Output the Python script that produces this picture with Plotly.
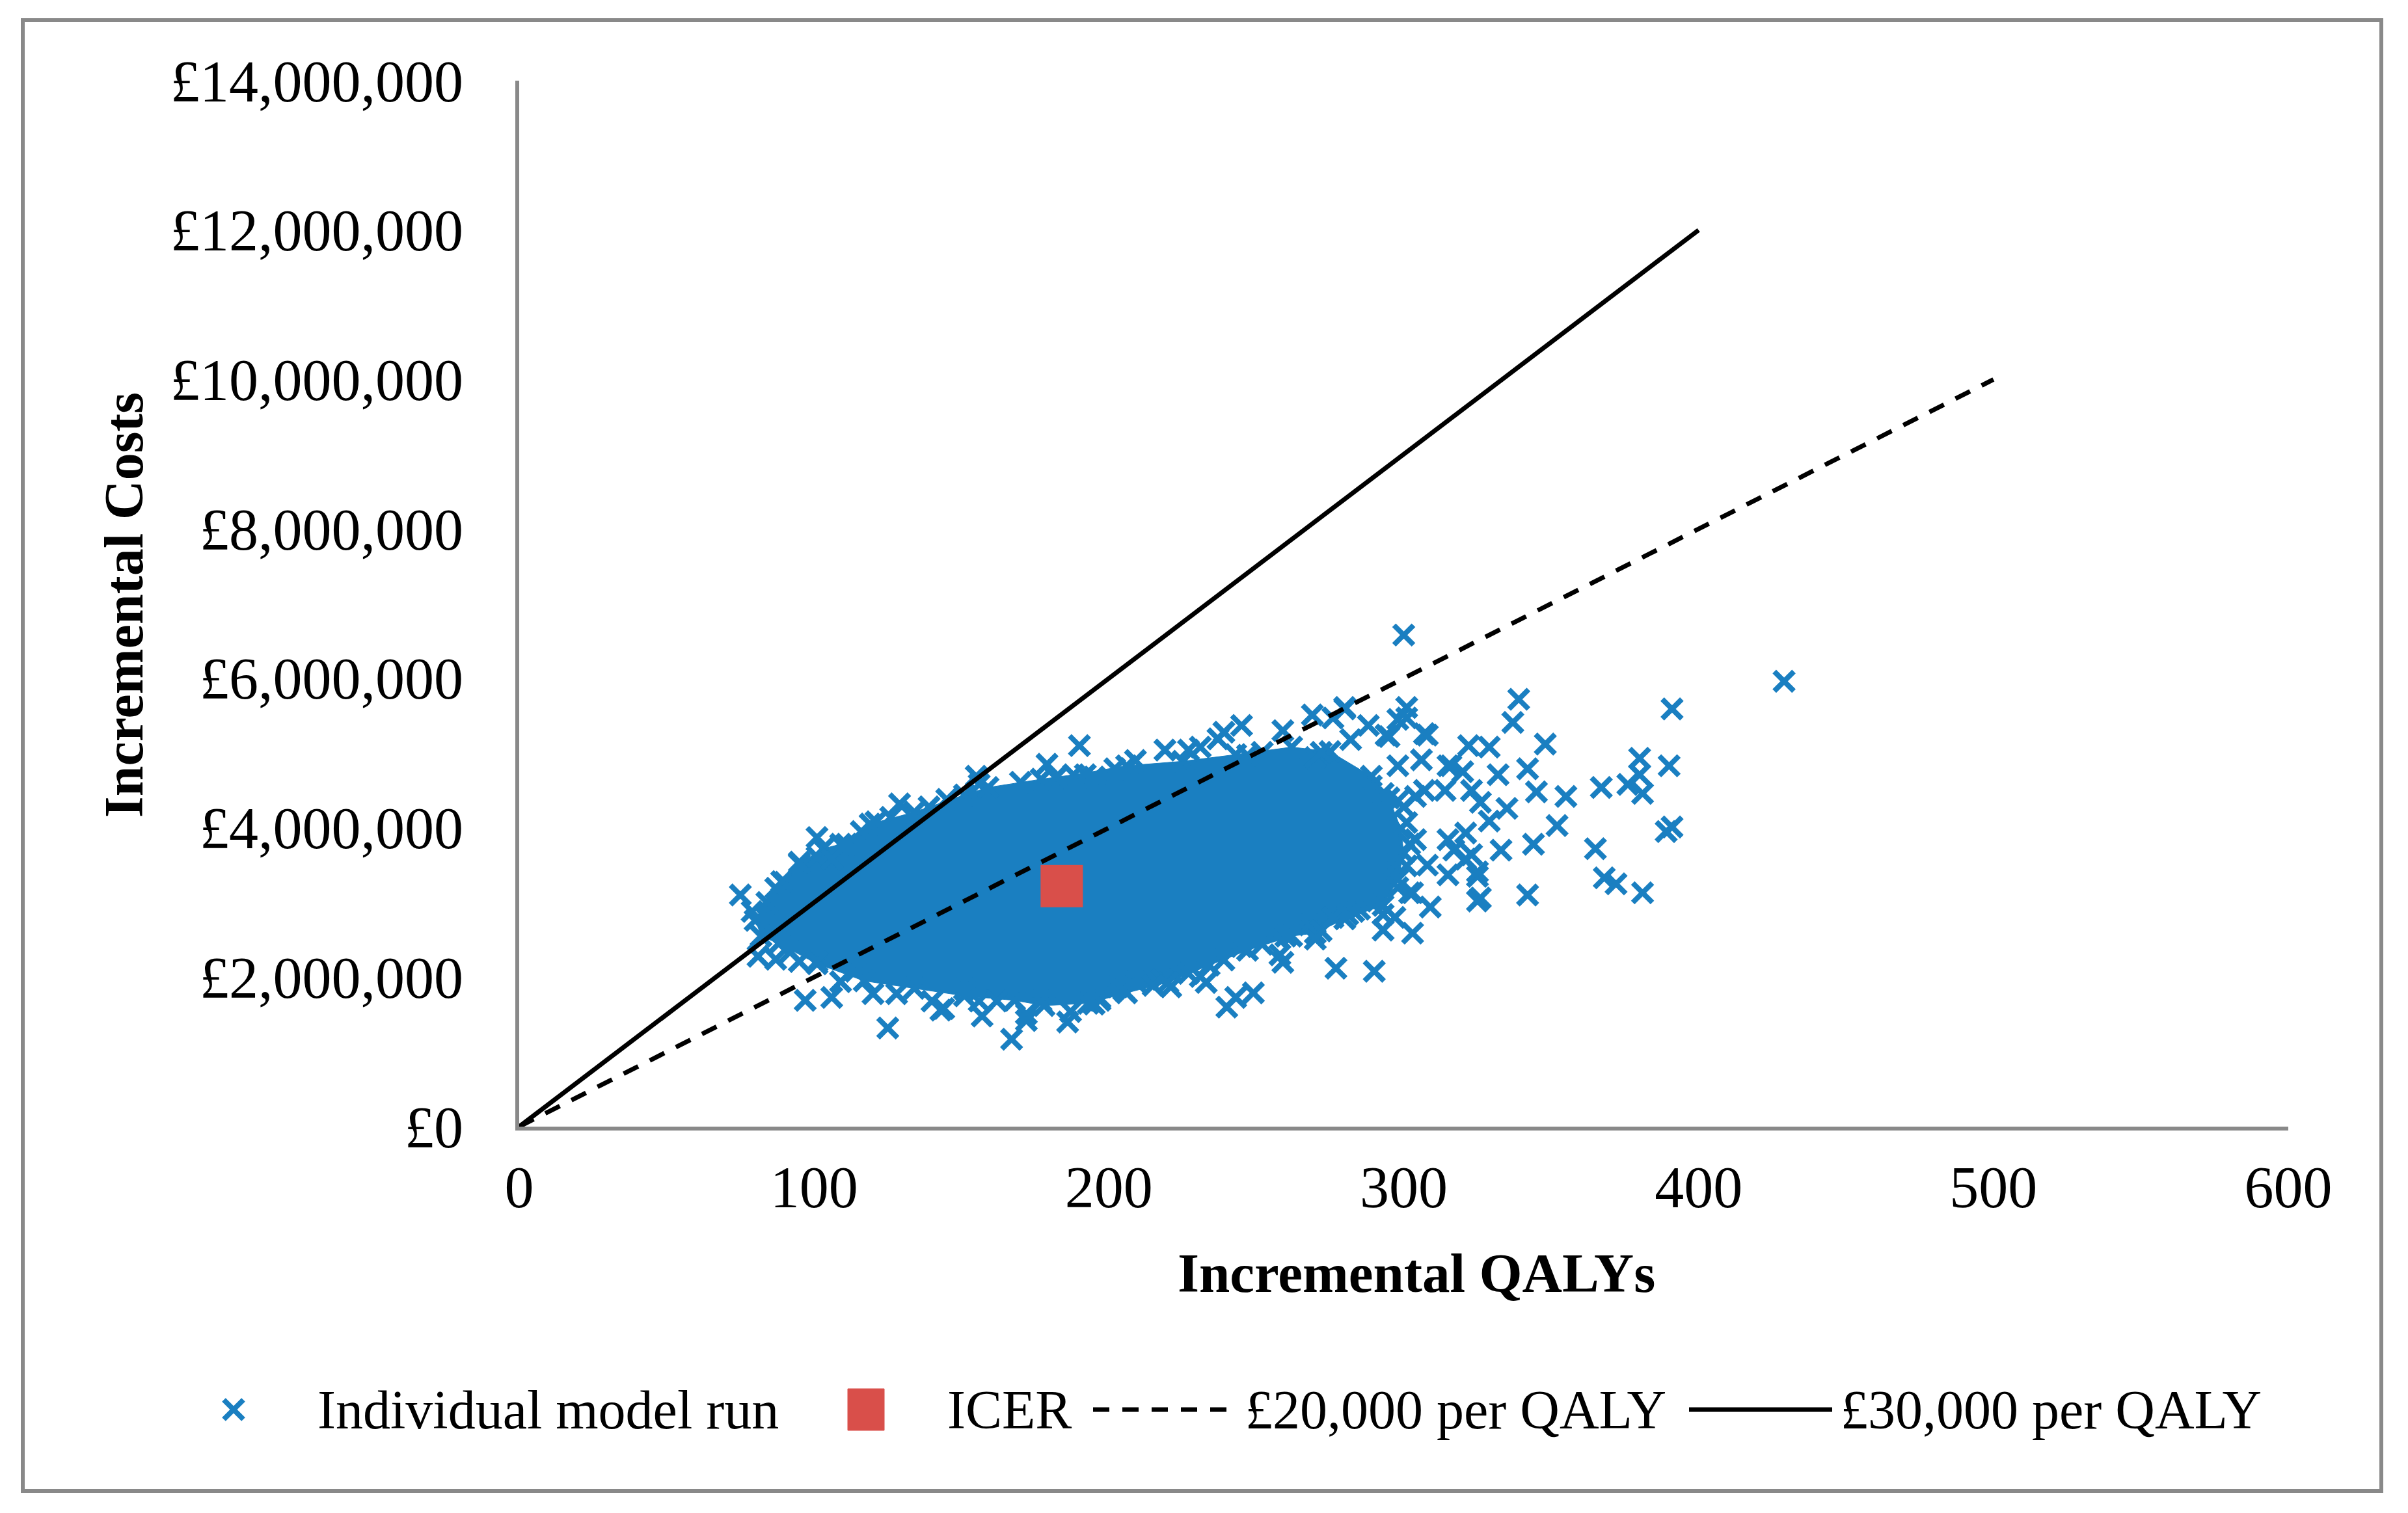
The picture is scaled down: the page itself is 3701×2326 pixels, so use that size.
import plotly.graph_objects as go

# reference canvas; the page body adds an 8px margin round the figure
W, H = 3701, 2326
PAD = 8
FW, FH = W - 2 * PAD, H - 2 * PAD

# ---- data ----
# outline of the solid blue cloud of model runs (QALYs, £ millions)
cloud_q = [80, 84, 90, 95, 103, 109, 119, 134, 151, 159, 177, 188, 206, 225, 243, 262, 275,
           289, 295, 299, 300, 298, 293, 280, 270, 262, 247, 234, 220, 206, 193, 178, 168,
           151, 134, 117, 101, 88, 82]
cloud_cost_m = [2.76, 3.00, 3.27, 3.52, 3.72, 3.78, 4.05, 4.21, 4.44, 4.54, 4.65, 4.71, 4.83,
                4.89, 4.98, 5.08, 5.02, 4.69, 4.40, 3.99, 3.66, 3.31, 2.96, 2.78, 2.59, 2.55,
                2.36, 2.16, 1.93, 1.79, 1.65, 1.62, 1.69, 1.75, 1.85, 1.95, 2.18, 2.45, 2.55]

# runs sitting on the ragged edge of the cloud
edge_q = [89, 95, 101, 106, 111, 116, 121, 126, 139, 145, 156, 170, 182, 192,
          195, 202, 209, 219, 227, 231, 237, 247, 252, 270, 272,
          92, 95, 101, 109, 114, 120, 128, 140, 144, 151, 156, 162, 172, 177, 187, 195,
          197, 203, 209, 218, 227, 231, 239, 245, 252, 258, 260, 268, 272, 276, 285, 291,
          298, 301, 302, 301, 298]
edge_cost_m = [3.28, 3.54, 3.61, 3.58, 3.78, 3.95, 4.08, 4.14, 4.28, 4.38, 4.58, 4.61, 4.68,
               4.71, 4.68, 4.79, 4.90, 5.04, 5.04, 5.08, 5.19, 4.97, 5.01, 4.94, 5.01,
               2.34, 2.21, 2.21, 1.94, 2.08, 1.78, 1.78, 1.68, 1.58, 1.84, 1.68, 1.68, 1.51,
               1.68, 1.54, 1.64, 1.72, 1.87, 1.94, 1.97, 2.05, 2.01, 2.23, 2.41, 2.44, 2.30,
               2.55, 2.70, 2.62, 2.80, 2.91, 3.02, 4.36, 4.07, 3.78, 3.49, 3.20]

# individual runs visible outside the solid cloud
run_q = [75, 79, 81, 87, 87, 101, 129, 155, 179, 182, 190,
         97, 106, 125, 167, 186, 157, 172, 143,
         243, 249, 240, 233, 221, 215, 205, 197, 259, 270, 277, 290, 293, 303, 281, 297,
         239, 245, 259, 269, 276, 280, 282, 288, 295, 298, 301, 300, 307, 322, 329, 315,
         320, 289, 293, 300, 307, 323, 304, 315, 323, 308, 315, 325, 303, 309, 326, 306,
         298, 314, 304, 297, 302, 283, 293,
         429, 391, 339, 337, 348, 390, 380, 380, 376, 381, 367, 355, 352, 365, 368, 372,
         381, 389, 391, 342, 325, 344, 345, 342, 332, 335, 326, 321, 325, 329, 333, 321,
         317, 316, 308, 301, 294, 280]
run_cost_m = [3.10, 2.88, 2.28, 2.24, 3.19, 3.87, 4.32, 4.69, 4.85, 4.67, 5.10,
              1.69, 1.73, 1.32, 1.17, 1.40, 1.48, 1.42, 1.56,
              1.73, 1.79, 1.60, 1.93, 1.87, 1.89, 1.83, 1.69, 2.20, 2.51, 2.12, 2.08, 2.63,
              2.59, 2.84, 2.80,
              5.28, 5.37, 5.30, 5.51, 5.47, 5.59, 5.18, 5.37, 5.22, 5.45, 5.61, 6.58, 5.26,
              5.10, 5.08, 4.83, 4.75, 4.56, 4.46, 4.28, 4.50, 4.50, 3.84, 3.84, 3.64, 3.50,
              3.37, 3.35, 3.13, 2.94, 3.06, 4.91, 4.83, 4.50, 4.42, 3.50, 3.13, 2.88, 2.84,
              5.96, 5.59, 5.72, 5.41, 5.12, 4.83, 4.93, 4.71, 4.58, 4.46, 4.54, 4.42, 4.03,
              3.72, 3.33, 3.25, 3.13, 3.95, 4.01, 3.10, 3.02, 3.78, 4.48, 4.79, 4.71, 4.26,
              4.34, 3.93, 3.41, 4.09, 3.70, 3.58, 3.70, 4.83, 5.24, 5.47, 5.24, 5.61]

icer_q = [184]
icer_cost = [3220000]

wtp20_q = [0, 500]
wtp20_cost = [0, 10000000]
wtp30_q = [0, 400]
wtp30_cost = [0, 12000000]

legend_labels = ["Individual model run", "ICER", "£20,000 per QALY", "£30,000 per QALY"]

# ---- styling ----
BLUE = "#1A7FC1"
RED = "#D94F4A"
GREY = "#898989"
FONT = "Liberation Serif, Times New Roman, serif"
CROSS = dict(symbol="x-thin", size=30, line=dict(color=BLUE, width=8))
DASH = "25px,20px"


def px(x):
    # window pixel -> paper fraction
    return (x - PAD) / FW


def py(y):
    return 1 - (y - PAD) / FH


fig = go.Figure()

# solid part of the cloud
fig.add_trace(go.Scatter(
    x=cloud_q, y=[c * 1e6 for c in cloud_cost_m],
    mode="lines+markers", fill="toself", fillcolor=BLUE,
    line=dict(color=BLUE, width=1), marker=CROSS,
    showlegend=False, hoverinfo="skip"))

all_q = edge_q + run_q
all_cost = [c * 1e6 for c in edge_cost_m + run_cost_m]
fig.add_trace(go.Scatter(
    x=all_q, y=all_cost, mode="markers", name=legend_labels[0], marker=CROSS))

fig.add_trace(go.Scatter(
    x=icer_q, y=icer_cost, mode="markers", name=legend_labels[1],
    marker=dict(symbol="square", size=62, color=RED, line=dict(color=RED, width=3))))

fig.add_trace(go.Scatter(
    x=wtp20_q, y=wtp20_cost, mode="lines", name=legend_labels[2],
    line=dict(color="black", width=7, dash=DASH)))

fig.add_trace(go.Scatter(
    x=wtp30_q, y=wtp30_cost, mode="lines", name=legend_labels[3],
    line=dict(color="black", width=7)))

# hand-made legend so the symbols keep their size next to the large text
leg_y = 2167
shapes = [
    dict(type="rect", xref="paper", yref="paper", x0=px(35), x1=px(3660), y0=py(2292), y1=py(31),
         line=dict(color=GREY, width=6)),
    dict(type="line", xref="paper", yref="paper", x0=px(344), x1=px(374), y0=py(leg_y - 15),
         y1=py(leg_y + 15), line=dict(color=BLUE, width=8)),
    dict(type="line", xref="paper", yref="paper", x0=px(344), x1=px(374), y0=py(leg_y + 15),
         y1=py(leg_y - 15), line=dict(color=BLUE, width=8)),
    dict(type="rect", xref="paper", yref="paper", x0=px(1303), x1=px(1359), y0=py(2199), y1=py(2135),
         fillcolor=RED, line=dict(color=RED, width=1)),
    dict(type="line", xref="paper", yref="paper", x0=px(1680), x1=px(1888), y0=py(leg_y), y1=py(leg_y),
         line=dict(color="black", width=7, dash=DASH)),
    dict(type="line", xref="paper", yref="paper", x0=px(2596), x1=px(2816), y0=py(leg_y), y1=py(leg_y),
         line=dict(color="black", width=7)),
]

annotations = [
    dict(text="<b>Incremental QALYs</b>", x=px(2177), y=py(1957), xref="paper", yref="paper",
         showarrow=False, xanchor="center", yanchor="middle", font=dict(size=85)),
    dict(text="<b>Incremental Costs</b>", x=px(190), y=py(930), xref="paper", yref="paper",
         showarrow=False, textangle=-90, xanchor="center", yanchor="middle", font=dict(size=84)),
]
for label, lx in zip(legend_labels, [486, 1454, 1912, 2827]):
    annotations.append(dict(text=label, x=px(lx), y=py(leg_y), xref="paper", yref="paper",
                            showarrow=False, xanchor="left", yanchor="middle",
                            font=dict(size=84)))

fig.update_layout(
    width=FW, height=FH,
    margin=dict(l=0, r=0, t=0, b=0),
    paper_bgcolor="white", plot_bgcolor="white",
    font=dict(family=FONT, color="black"),
    showlegend=False,
    shapes=shapes,
    annotations=annotations,
    xaxis=dict(domain=[px(798), px(3517)], range=[0, 600], dtick=100,
               showline=True, linecolor=GREY, linewidth=6, showgrid=False, zeroline=False,
               ticks="", ticklabelstandoff=10, tickfont=dict(size=90), automargin=False),
    yaxis=dict(domain=[py(1732), py(124)], range=[0, 14000000], dtick=2000000,
               tickprefix="£", tickformat=",d",
               showline=True, linecolor=GREY, linewidth=6, showgrid=False, zeroline=False,
               ticks="", ticklabelstandoff=62, tickfont=dict(size=90), automargin=False),
)

fig.write_html("out.html")
